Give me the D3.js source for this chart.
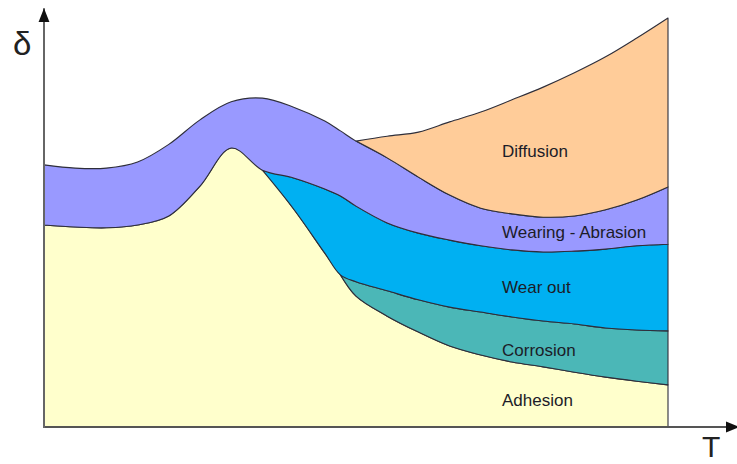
<!DOCTYPE html>
<html>
<head>
<meta charset="utf-8">
<script src="https://cdnjs.cloudflare.com/ajax/libs/d3/7.8.5/d3.min.js"></script>
<style>
  body { margin: 0; background: #fff; }
  svg { display: block; }
</style>
</head>
<body>
<div id="graph"></div>
<script>
// temperature samples (arbitrary units, 0..100 across the plotted band)
const temps = [0, 5, 10, 15, 20, 25, 30, 35, 40, 45, 47.5, 50, 55, 60, 65, 70, 75, 80, 85, 90, 95, 100];

// thickness of each wear mechanism at every sample (stacked bottom -> top)
const adhesion  = [49.4, 48.9, 48.7, 49.4, 51.6, 58.9, 68.2, 62.8, 53.3, 42.5, 37.2, 32.0, 27.1, 23.2, 19.8, 17.6, 15.9, 14.7, 13.4, 12.2, 11.2, 10.3];
const corrosion = [0, 0, 0, 0, 0, 0, 0, 0, 0, 0, 0, 3.5, 6.2, 7.9, 9.5, 10.5, 11.0, 11.2, 11.8, 12.0, 12.5, 13.2];
const wearOut   = [0, 0, 0, 0, 0, 0, 0, 0, 7.6, 15.7, 19.3, 18.5, 16.6, 16.3, 16.4, 16.2, 16.4, 16.9, 17.8, 19.3, 20.6, 21.2];
const abrasion  = [14.7, 14.4, 14.6, 15.4, 17.5, 16.2, 11.3, 17.6, 17.3, 16.6, 15.9, 15.9, 15.9, 13.7, 11.0, 9.2, 8.8, 8.5, 8.6, 9.6, 11.2, 14.0];
const diffusion = [0, 0, 0, 0, 0, 0, 0, 0, 0, 0, 0, 0, 5.3, 11.0, 17.9, 23.5, 27.9, 31.8, 35.0, 37.4, 39.6, 41.3];

const layerNames = ["Adhesion", "Corrosion", "Wear out", "Wearing - Abrasion", "Diffusion"];
const layerValues = [adhesion, corrosion, wearOut, abrasion, diffusion];
const layerColors = ["#ffffcc", "#4bb7b7", "#00b0f2", "#9999ff", "#ffcc99"];

function graph() {

  let w = 737;
  let h = 464;

  const x = d3.scaleLinear()
              .domain([0, 100])
              .range([44, 668]);

  const y = d3.scaleLinear()
              .domain([0, 100])
              .range([427, 18]);

  const rows = temps.map((t, i) => {
    let r = { T: t };
    layerNames.forEach((k, j) => r[k] = layerValues[j][i]);
    return r;
  });

  const series = d3.stack().keys(layerNames)(rows);

  const area = d3.area()
                 .x(d => x(d.data.T))
                 .y0(d => y(d[0]))
                 .y1(d => y(d[1]))
                 .curve(d3.curveCatmullRom.alpha(0.5));

  const svg = d3.select("#graph")
                .append("svg")
                .attr("width", w)
                .attr("height", h);

  const defs = svg.append("defs");
  defs.append("marker")
      .attr("id", "arrow")
      .attr("viewBox", "-14 -6 14 12")
      .attr("refX", 0)
      .attr("refY", 0)
      .attr("markerWidth", 14)
      .attr("markerHeight", 12)
      .attr("markerUnits", "userSpaceOnUse")
      .attr("orient", "auto")
      .append("path")
      .attr("d", "M0,0L-14,-5.5L-14,5.5Z")
      .attr("fill", "#111");

  // layers: only draw from the point where a layer starts to exist
  series.forEach((s, i) => {
    let first = s.findIndex(d => d[1] - d[0] > 0);
    let pts = s.slice(Math.max(0, first - 1));
    svg.append("path")
       .datum(pts)
       .attr("class", "layer")
       .attr("d", area)
       .attr("fill", layerColors[i])
       .attr("stroke", "#2e2e3a")
       .attr("stroke-width", 1.1)
       .attr("stroke-linejoin", "round");
  });

  // axes: plain arrows, no ticks
  const xAxisScale = x.copy().domain([0, 111.5]).range([x(0), x(111.5)]);
  const yAxisScale = y.copy().domain([0, 102.4]).range([y(0), y(102.4)]);

  svg.append("g")
     .attr("id", "x-axis")
     .attr("transform", `translate(0, ${y(0)})`)
     .call(d3.axisBottom(xAxisScale).tickValues([]).tickSizeOuter(0))
     .call(g => g.select(".domain")
                 .attr("d", `M${xAxisScale(0) - 1},0H${xAxisScale(111.5)}`)
                 .attr("stroke", "#555")
                 .attr("stroke-width", 2)
                 .attr("marker-end", "url(#arrow)"));

  svg.append("g")
     .attr("id", "y-axis")
     .attr("transform", `translate(${x(0)}, 0)`)
     .call(d3.axisLeft(yAxisScale).tickValues([]).tickSizeOuter(0))
     .call(g => g.select(".domain")
                 .attr("d", `M0,${yAxisScale(0) + 1}V${yAxisScale(102.4)}`)
                 .attr("stroke", "#666")
                 .attr("stroke-width", 2)
                 .attr("marker-end", "url(#arrow)"));

  // layer labels, left aligned in one column
  const labelT = 73.4;
  const labelD = { "Diffusion": 66.0, "Wearing - Abrasion": 46.2, "Wear out": 32.8, "Corrosion": 17.4, "Adhesion": 5.1 };

  svg.selectAll("text.label")
     .data(layerNames)
     .enter()
     .append("text")
     .attr("class", "label")
     .attr("x", x(labelT))
     .attr("y", d => y(labelD[d]))
     .style("font-family", "'Liberation Sans', Arial, sans-serif")
     .style("font-size", "17px")
     .style("fill", "#1c1c28")
     .text(d => d);

  svg.append("text")
     .attr("x", 13)
     .attr("y", 55)
     .style("font-family", "'Liberation Sans', Arial, sans-serif")
     .style("font-size", "33px")
     .style("fill", "#222")
     .text("δ");

  svg.append("text")
     .attr("x", 702)
     .attr("y", 457)
     .style("font-family", "'Liberation Sans', Arial, sans-serif")
     .style("font-size", "30px")
     .style("fill", "#222")
     .text("T");
}

graph();
</script>
</body>
</html>
